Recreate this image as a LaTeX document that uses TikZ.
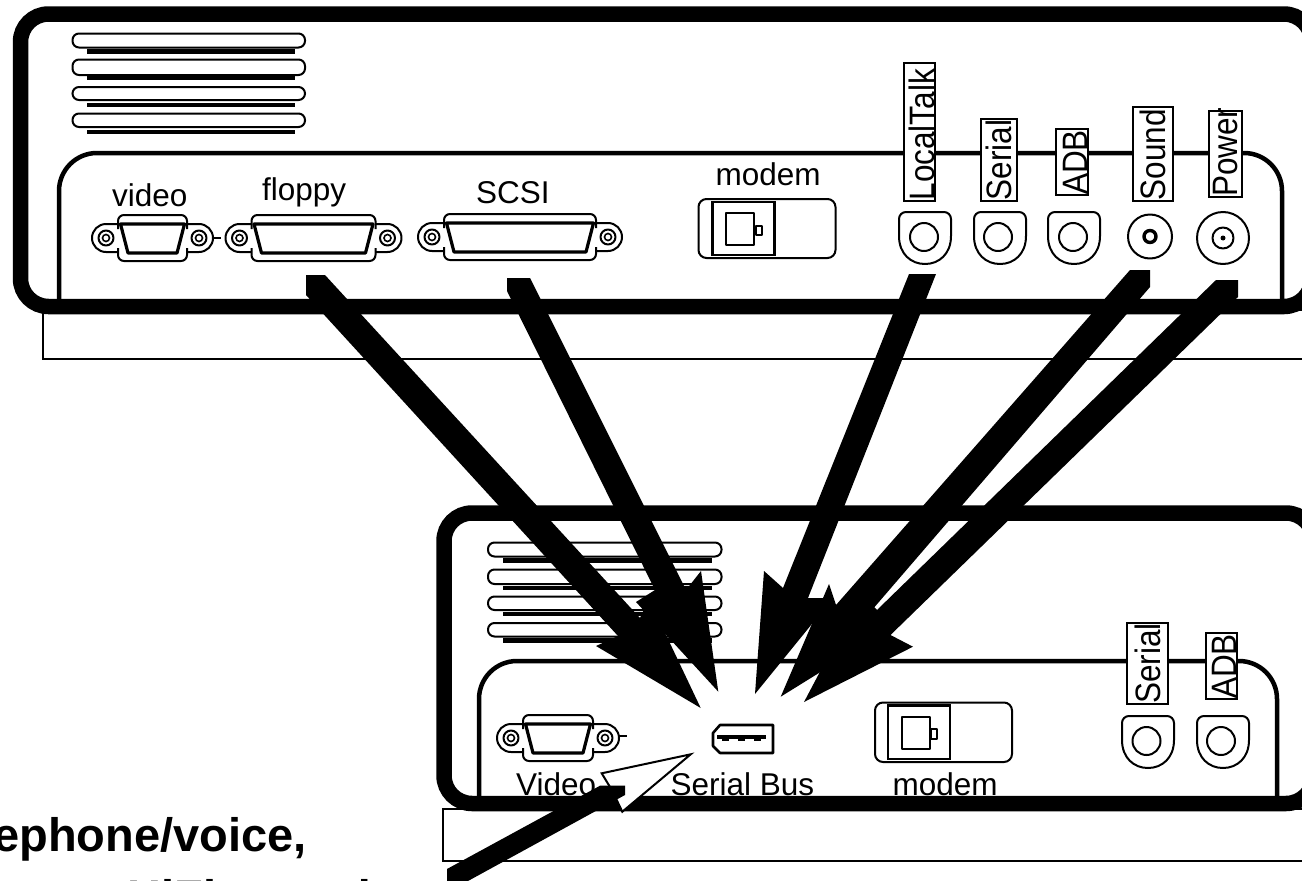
\documentclass[tikz,border=0pt]{standalone}
\usepackage{graphicx}
\usepackage{fontspec}
\setmainfont{Liberation Sans}
\newcommand{\lblfont}{\fontsize{31.5}{36}\selectfont}
\newcommand{\boldfont}{\fontsize{47}{54}\selectfont\bfseries}
\newcommand{\vertlabel}[7]{% name, x0,y0,x1,y1, baseline x, text
  \draw[labelbox] (#2,#3) rectangle (#4,#5);
  \node[vtext] (#1) at (#6,#5) {\scalebox{1}[1.12]{#7}};}
\newcommand{\slat}[4]{% x0,x1,y0,y1
  \draw[slatline] (#1,#3) rectangle (#2,#4);}
\newcommand{\dconn}[4]{% name, cx, cy, hw
  \begin{scope}[shift={(#2,#3)}]
    \coordinate (#1) at (0,0);
    \pgfmathsetmacro{\hw}{#4}
    \pgfmathsetmacro{\ce}{#4+12}
    \pgfmathsetmacro{\ee}{#4+12}
    \draw[thinl] (-\hw,-14) -- (-\ee,-14) arc[start angle=270,end angle=90,radius=14] -- (-\hw,14);
    \draw[thinl] (\hw,-14) -- (\ee,-14) arc[start angle=270,end angle=450,radius=14] -- (\hw,14);
    \draw[thinl,rounded corners=6] (-\hw,-9) -- (-\hw,-23) -- (\hw,-23) -- (\hw,-9);
    \draw[thinl,rounded corners=6] (-\hw,10) -- (-\hw,23) -- (\hw,23) -- (\hw,10);
    \draw[line width=3.2pt,line join=round,fill=white] (-\hw+2.5,-14) -- (\hw-2.5,-14) -- (\hw-10,15) -- (-\hw+10,15) -- cycle;
    \foreach \s in {-1,1}{
      \draw[thinl] (\s*\ce,0) circle[radius=7.5];
      \draw[line width=1.6pt] (\s*\ce,0) circle[radius=3.5];
    }
  \end{scope}}
\newcommand{\socket}[4]{% name, x0 (left), y top, circle cx
  \coordinate (#1) at (#4,#3+25);
  \draw[thinl,fill=white] (#2,#3+7) arc[start angle=180,end angle=270,radius=7] -- (#2+45,#3) arc[start angle=270,end angle=360,radius=7] -- (#2+52,#3+24) .. controls (#2+52,#3+42) and (#2+40,#3+52) .. (#2+26,#3+52) .. controls (#2+12,#3+52) and (#2,#3+42) .. (#2,#3+24) -- cycle;
  \draw[thinl] (#4,#3+25) circle[radius=14];}
\newcommand{\modembox}[5]{% x0,y0,x1,y1 (outer), inner-left offset
  \draw[thinl,rounded corners=8] (#1,#2) rectangle (#3,#4);
  \draw[line width=2.4pt] (#1+#5,#2+3) rectangle (#1+#5+62,#4-3);
  \draw[thinl] (#1+#5+13.5,#2+14) rectangle (#1+#5+41.5,#4-13.5);
  \draw[thinl] (#1+#5+43,#2+26.5) rectangle (#1+#5+49,#2+36);}
\newcommand{\bigarrow}[9]{% name, tail-left-lower, tail-left-top, tail-right-top, tail-right-lower, jR, barbR, tip, barbL ; jL in \jl
  \coordinate (#1tip) at #8;
  \coordinate (#1tail) at #3;
  \fill[black] #2 -- (#1tail) -- #4 -- #5 -- #6 -- #7 -- (#1tip) -- #9 -- \jl -- cycle;}
\tikzset{
  x=1pt,y=-1pt,
  caseline/.style={line width=15.5pt,draw=black,rounded corners=28pt},
  panelline/.style={line width=4.5pt,draw=black,rounded corners=38pt},
  footline/.style={line width=2pt,draw=black},
  slatline/.style={line width=2pt,draw=black,fill=white,rounded corners=6.5pt},
  thinl/.style={line width=2pt,draw=black,line join=round},
  labelbox/.style={line width=2pt,draw=black,fill=white},
  vtext/.style={rotate=90,anchor=base west,inner sep=0pt,font=\lblfont},
  htext/.style={anchor=base west,inner sep=0pt,font=\lblfont},
  shadowbar/.style={fill=black},
}
\begin{document}
\begin{tikzpicture}
\useasboundingbox (0,0) rectangle (1302,881);
\clip (0,0) rectangle (1302,881);

% ---------- upper machine
\draw[footline] (43,310) rectangle (1330,359);
\draw[panelline] (59,300) -- (59,153) -- (1282,153) -- (1282,300);
\draw[caseline] (20.5,14) rectangle (1312,306.5);
\foreach \a/\b in {33.5/47.5,59.5/75,87/100,113.5/127}{\slat{72.5}{305}{\a}{\b}}
\foreach \a/\b in {49/54,75.5/80,103/107,130/134}{\fill[shadowbar] (87,\a) rectangle (295,\b);}

\dconn{vidA}{152.5}{238}{34.5}
\draw[line width=2pt] (214,238) -- (221,238);
\dconn{flopA}{313.5}{238}{62}
\dconn{scsiA}{520}{237}{76}
\node[htext] (lvideo) at (112,206) {video};
\node[htext] (lfloppy) at (262,200) {floppy};
\node[htext] (lscsi) at (476,203) {SCSI};
\node[htext] (lmodemA) at (715.5,185) {modem};
\modembox{698.5}{199}{835.5}{258}{14}

\socket{ltA}{899}{212}{924}
\socket{serA}{974}{212}{998}
\socket{adbA}{1048}{212}{1073}
\coordinate (sndA) at (1150,236.5);
\draw[thinl] (sndA) circle[radius=22];
\draw[line width=3.4pt] (sndA) circle[radius=6];
\coordinate (powA) at (1223,238);
\draw[thinl] (powA) circle[radius=26];
\draw[thinl] (powA) circle[radius=10.5];
\fill (powA) circle[radius=2.5];

\vertlabel{lLT}{904}{63}{935}{200.5}{934}{LocalTalk}
\vertlabel{lSerA}{980.5}{119}{1017}{200.5}{1011}{Serial}
\vertlabel{lAdbA}{1056}{129}{1087.5}{195}{1087}{ADB}
\vertlabel{lSnd}{1133}{107}{1173}{200.5}{1165}{Sound}
\vertlabel{lPow}{1209}{111}{1241.5}{197}{1237}{Power}

% ---------- lower machine
\draw[footline] (443,809) rectangle (1330,861);
\draw[panelline] (479,797) -- (479,661) -- (1277,661) -- (1277,797);
\draw[caseline] (444,513) rectangle (1314,803.5);
\foreach \a/\b in {542.5/556.5,569.5/584,596.5/610,623/636.5}{\slat{488}{721.5}{\a}{\b}}
\foreach \a/\b in {558/562.5,585.5/590,612/616,638/642.5}{\fill[shadowbar] (503,\a) rectangle (711.5,\b);}

\dconn{vidB}{558}{738}{35}
\draw[line width=2pt] (619,736) -- (627,736);
\node[htext] (lvideoB) at (516,795) {Video};
\node[htext] (lbus) at (670.5,795) {Serial Bus};
\node[htext] (lmodemB) at (892.5,795) {modem};
\modembox{875}{702.5}{1012}{762}{13}

% serial bus port
\coordinate (busport) at (743,739);
\draw[line width=2.6pt,line join=round] (713,733) -- (720,725) -- (773,725) -- (773,753) -- (720,753) -- (713,746) -- cycle;
\fill (717,734.5) rectangle (766,738.5);
\foreach \x in {722,738,754}{\fill (\x,738) rectangle (\x+7,741);}

\socket{serB}{1122}{716}{1146.5}
\socket{adbB}{1197}{716}{1221}
\vertlabel{lSerB}{1127}{622.5}{1168}{704}{1160.5}{Serial}
\vertlabel{lAdbB}{1205.5}{633}{1236.5}{699}{1236.5}{ADB}

% ---------- big black arrows
\def\jl{(618,636)}
\bigarrow{flop}{(306,295)}{(306,275)}{(325,275)}{(325,275)}{(640,618)}{(649,599)}{(700.7,708)}{(596,646)}
\def\jl{(655,590)}
\bigarrow{scsi}{(507,291)}{(507,278)}{(530,278)}{(530,278)}{(686,590)}{(701,571)}{(718.3,691.7)}{(636,602)}
\def\jl{(783,588)}
\bigarrow{lt}{(909,274)}{(909,274)}{(936,274)}{(936,274)}{(808,598)}{(833,598)}{(755,694)}{(764,571)}
\def\jl{(836,605)}
\bigarrow{snd}{(1130,270)}{(1130,270)}{(1150,270)}{(1150,287)}{(872,610)}{(885,632)}{(780.7,696.7)}{(829,584)}
\def\jl{(877,610)}
\bigarrow{pow}{(1216,280)}{(1216,280)}{(1238,280)}{(1238,297)}{(890.5,635)}{(913,646.7)}{(804,702)}{(861,594)}

% ---------- white arrow from the lower left
\coordinate (wtip) at (690.7,754.3);
\draw[line width=2pt,fill=white,line join=miter] (wtip) -- (601.7,773.3) -- (610,787) -- (616.7,800) -- (622.3,811.7) -- cycle;
\coordinate (wtail) at (447,869);
\fill[black] (600,785.7) -- (625,785.7) -- (625,795) -- (468,881) -- (468,890) -- (447,890) -- (wtail) -- cycle;

% ---------- text at the foot
\node[anchor=base east,inner sep=0pt,font=\boldfont] (tline1) at (307,851) {ephone/voice,};
\node[anchor=base west,inner sep=0pt,font=\boldfont] (tline2) at (86,913) {t, HiFi sound};
\end{tikzpicture}
\end{document}
